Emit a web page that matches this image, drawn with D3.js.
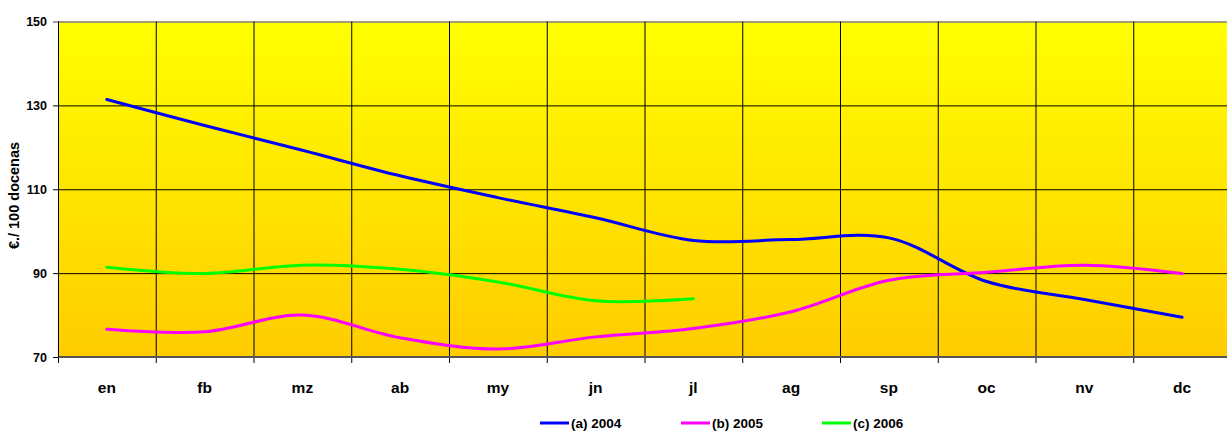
<!DOCTYPE html>
<html>
<head>
<meta charset="utf-8">
<script src="https://cdn.jsdelivr.net/npm/d3@7"></script>
<style>
  body { margin: 0; background: #fff; }
  svg { display: block; }
</style>
</head>
<body>
<div id="main"></div>
<script>
const months = ['en', 'fb', 'mz', 'ab', 'my', 'jn', 'jl', 'ag', 'sp', 'oc', 'nv', 'dc'];
const yTicks = [70, 90, 110, 130, 150];
const s2004 = [131.4, 125.2, 119.3, 113.2, 108.0, 103.2, 97.8, 98.0, 98.4, 88.0, 83.7, 79.5];
const s2005 = [76.6, 76.0, 80.0, 74.6, 71.9, 74.8, 76.8, 80.8, 88.3, 90.2, 91.9, 89.9];
const s2006 = [91.4, 89.9, 91.9, 90.9, 87.9, 83.4, 83.9];
const seriesNames = ['(a) 2004', '(b) 2005', '(c) 2006'];
const seriesColors = ['#0000ff', '#ff00ff', '#00ff00'];

const fontFamily = '"Liberation Sans", Arial, sans-serif';
const width = 1227;
const height = 432;
const margin = { top: 21.5, right: -4, bottom: 75, left: 58 };
const innerWidth = width - margin.left - margin.right;
const innerHeight = height - margin.top - margin.bottom;

const svg = d3.select('#main')
  .append('svg')
  .attr('width', width)
  .attr('height', height)
  .attr('font-family', fontFamily)
  .attr('font-weight', 'bold');

const defs = svg.append('defs');
const grad = defs.append('linearGradient')
  .attr('id', 'bg')
  .attr('x1', 0).attr('y1', 0).attr('x2', 0).attr('y2', 1);
grad.append('stop').attr('offset', '0%').attr('stop-color', '#ffff00');
grad.append('stop').attr('offset', '100%').attr('stop-color', '#ffcc00');

const g = svg.append('g')
  .attr('transform', `translate(${margin.left},${margin.top})`);

const xScale = d3.scaleBand()
  .domain(months)
  .range([0, innerWidth]);

const yScale = d3.scaleLinear()
  .domain([70, 150])
  .range([innerHeight, 0]);

g.append('rect')
  .attr('width', innerWidth)
  .attr('height', innerHeight)
  .attr('fill', 'url(#bg)');

// horizontal gridlines + y axis
const yAxis = d3.axisLeft(yScale)
  .tickValues(yTicks)
  .tickSize(-innerWidth)
  .tickPadding(11)
  .tickFormat(d3.format('d'));

const yAxisG = g.append('g').call(yAxis)
  .attr('font-family', fontFamily)
  .attr('font-size', 12.5)
  .attr('font-weight', 'bold');
yAxisG.select('.domain').remove();
yAxisG.selectAll('.tick line')
  .attr('stroke', '#000')
  .attr('x1', -5);
yAxisG.selectAll('.tick text')
  .attr('fill', '#000');
yAxisG.selectAll('.tick')
  .filter(d => d === 150)
  .select('line')
  .attr('stroke', '#808080')
  .attr('stroke-width', 1.5);

// vertical gridlines at category boundaries
const boundaries = months.map(m => xScale(m));
g.append('g')
  .selectAll('line')
  .data(boundaries)
  .join('line')
  .attr('x1', d => d + 0.5)
  .attr('x2', d => d + 0.5)
  .attr('y1', 0)
  .attr('y2', innerHeight + 6)
  .attr('stroke', '#000')
  .attr('stroke-width', 1);

// x axis baseline
g.append('line')
  .attr('x1', 0)
  .attr('x2', innerWidth)
  .attr('y1', innerHeight)
  .attr('y2', innerHeight)
  .attr('stroke', '#555')
  .attr('stroke-width', 2);

// left axis line
g.append('line')
  .attr('x1', 0.5)
  .attr('x2', 0.5)
  .attr('y1', 0)
  .attr('y2', innerHeight)
  .attr('stroke', '#000');

// x labels
g.append('g')
  .selectAll('text')
  .data(months)
  .join('text')
  .attr('x', d => xScale(d) + xScale.bandwidth() / 2)
  .attr('y', innerHeight + 31)
  .attr('dy', '0.32em')
  .attr('text-anchor', 'middle')
  .attr('font-family', fontFamily)
  .attr('font-weight', 'bold')
  .attr('font-size', 15.5)
  .attr('fill', '#000')
  .text(d => d);

// y axis label
g.append('text')
  .attr('transform', `translate(${-44},${174}) rotate(-90)`)
  .attr('dy', '0.32em')
  .attr('text-anchor', 'middle')
  .attr('font-family', fontFamily)
  .attr('font-weight', 'bold')
  .attr('font-size', 14.5)
  .attr('fill', '#000')
  .text('€./ 100 docenas');

// lines
const lineGenerator = d3.line()
  .x((d, i) => xScale(months[i]) + xScale.bandwidth() / 2)
  .y(d => yScale(d))
  .curve(d3.curveCatmullRom.alpha(0.5));

const allSeries = [s2004, s2005, s2006];
g.append('g')
  .selectAll('path')
  .data(allSeries)
  .join('path')
  .attr('d', d => lineGenerator(d))
  .attr('fill', 'none')
  .attr('stroke', (d, i) => seriesColors[i])
  .attr('stroke-width', 3)
  .attr('stroke-linecap', 'round')
  .attr('stroke-linejoin', 'round');

// legend
const legendX = [540, 681, 822];
const legend = svg.append('g')
  .selectAll('g')
  .data(seriesNames)
  .join('g')
  .attr('transform', (d, i) => `translate(${legendX[i]},423)`);
legend.append('line')
  .attr('x1', 0)
  .attr('x2', 29)
  .attr('stroke', (d, i) => seriesColors[i])
  .attr('stroke-width', 3);
legend.append('text')
  .attr('x', 31)
  .attr('y', 1)
  .attr('dy', '0.32em')
  .attr('font-family', fontFamily)
  .attr('font-weight', 'bold')
  .attr('font-size', 13.5)
  .attr('fill', '#000')
  .text(d => d);
</script>
</body>
</html>
